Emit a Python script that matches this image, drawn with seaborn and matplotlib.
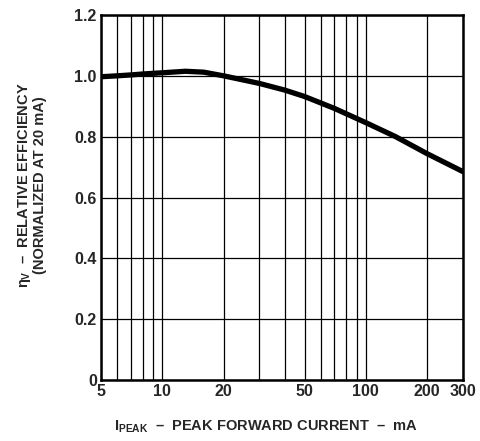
import matplotlib
matplotlib.use('Agg')
import matplotlib.pyplot as plt
import matplotlib.ticker as mticker
import pandas as pd
import seaborn as sns

# curve
current_ma = [5, 6, 7, 8, 10, 13, 16, 20, 30, 40, 50, 70, 100, 140, 200, 300]
rel_eff = [0.997, 1.0, 1.003, 1.006, 1.01, 1.015, 1.012, 1.0, 0.975, 0.953,
           0.932, 0.893, 0.846, 0.80, 0.744, 0.685]

x_major = [5, 10, 20, 50, 100, 200, 300]
x_minor = [6, 7, 8, 9, 30, 40, 60, 70, 80, 90]
y_ticks = [0, 0.2, 0.4, 0.6, 0.8, 1.0, 1.2]
y_labels = ['0', '0.2', '0.4', '0.6', '0.8', '1.0', '1.2']

sns.set_style("white")
plt.rcParams['font.family'] = ['Liberation Sans', 'DejaVu Sans']
plt.rcParams['font.weight'] = 'bold'
plt.rcParams['mathtext.fontset'] = 'custom'
plt.rcParams['mathtext.rm'] = 'Liberation Sans:bold'
plt.rcParams['mathtext.it'] = 'Liberation Sans:bold'
plt.rcParams['mathtext.bf'] = 'Liberation Sans:bold'

df = pd.DataFrame({'current': current_ma, 'eff': rel_eff})

fig = plt.figure(figsize=(4.8, 4.41), dpi=100)
ax = fig.add_axes([0.2104, 0.1383, 0.7542, 0.8277])

sns.lineplot(data=df, x='current', y='eff', ax=ax, color='black', lw=3.8,
             zorder=5)

ax.set_xscale('log')
ax.set_xlim(5, 300)
ax.set_ylim(0, 1.2)
ax.set_xticks(x_major)
ax.set_xticklabels([str(v) for v in x_major])
ax.xaxis.set_minor_locator(mticker.FixedLocator(x_minor))
ax.xaxis.set_minor_formatter(mticker.NullFormatter())
ax.set_yticks(y_ticks)
ax.set_yticklabels(y_labels)

ax.grid(True, which='both', color='black', lw=0.9)
ax.tick_params(axis='both', which='both', length=0, labelsize=11.5, pad=3)
for lab in ax.get_xticklabels() + ax.get_yticklabels():
    lab.set_fontweight('bold')

for s in ax.spines.values():
    s.set_color('black')
    s.set_linewidth(1.8)
    s.set_zorder(6)

ax.set_xlabel(r"I$_{\mathbf{PEAK}}$  –  PEAK FORWARD CURRENT  –  mA",
              fontsize=10.5, fontweight='bold')
ax.set_ylabel("$\\eta_{V}$  –  RELATIVE EFFICIENCY\n(NORMALIZED AT 20 mA)",
              fontsize=10.5, fontweight='bold', linespacing=1.0)
ax.xaxis.set_label_coords(0.455, -0.105)
ax.yaxis.set_label_coords(-0.15, 0.535)

fig.savefig('out.png', dpi=100)
